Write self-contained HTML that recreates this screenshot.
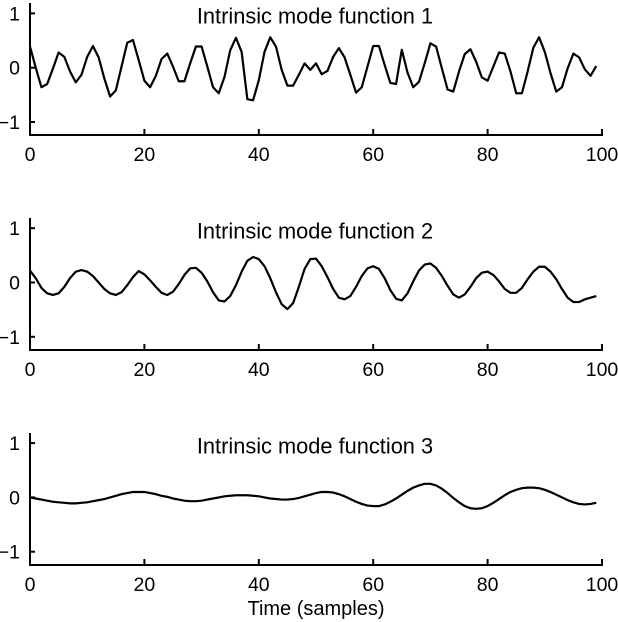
<!DOCTYPE html>
<html><head><meta charset="utf-8">
<style>
html,body{margin:0;padding:0;background:#fff;}
svg{display:block;font-family:"Liberation Sans",Helvetica,Arial,sans-serif;}
</style></head>
<body>
<svg id="chart" width="618" height="622" viewBox="0 0 618 622" xmlns="http://www.w3.org/2000/svg"></svg>
<script>
const xTicks = [0, 20, 40, 60, 80, 100];
const yTicks = [-1, 0, 1];
const yTickLabels = ["\u22121", "0", "1"];
const titles = ["Intrinsic mode function 1", "Intrinsic mode function 2", "Intrinsic mode function 3"];
const imf1 = [0.39,0.0,-0.36,-0.30,-0.02,0.28,0.20,-0.07,-0.27,-0.13,0.20,0.40,0.19,-0.20,-0.53,-0.42,0.02,0.46,0.51,0.14,-0.24,-0.36,-0.15,0.16,0.26,0.02,-0.25,-0.25,0.08,0.39,0.39,0.02,-0.36,-0.47,-0.17,0.32,0.55,0.29,-0.58,-0.60,-0.23,0.29,0.56,0.39,-0.04,-0.33,-0.33,-0.13,0.08,-0.04,0.08,-0.12,-0.06,0.20,0.36,0.19,-0.13,-0.46,-0.36,0.02,0.40,0.40,0.05,-0.28,-0.30,0.33,-0.09,-0.36,-0.26,0.08,0.45,0.39,-0.01,-0.40,-0.44,-0.07,0.25,0.34,0.11,-0.18,-0.24,0.02,0.28,0.26,-0.07,-0.47,-0.47,-0.07,0.37,0.56,0.29,-0.10,-0.44,-0.36,-0.01,0.26,0.19,-0.03,-0.15,0.03];
const imf2 = [0.22,0.08,-0.10,-0.20,-0.23,-0.20,-0.08,0.08,0.20,0.23,0.20,0.12,0.0,-0.12,-0.20,-0.23,-0.18,-0.05,0.10,0.21,0.15,0.04,-0.08,-0.19,-0.23,-0.17,-0.03,0.14,0.26,0.27,0.18,0.02,-0.18,-0.33,-0.35,-0.25,-0.05,0.20,0.40,0.47,0.43,0.30,0.08,-0.18,-0.40,-0.49,-0.38,-0.08,0.25,0.43,0.44,0.30,0.10,-0.12,-0.28,-0.31,-0.25,-0.08,0.12,0.26,0.30,0.25,0.08,-0.14,-0.30,-0.33,-0.20,0.02,0.22,0.33,0.35,0.27,0.12,-0.06,-0.22,-0.28,-0.22,-0.08,0.08,0.18,0.20,0.14,0.02,-0.12,-0.19,-0.19,-0.10,0.06,0.20,0.29,0.29,0.20,0.06,-0.12,-0.28,-0.36,-0.36,-0.31,-0.28,-0.25];
const imf3 = [0,-0.02,-0.04,-0.06,-0.08,-0.09,-0.10,-0.11,-0.11,-0.10,-0.09,-0.07,-0.05,-0.03,0,0.03,0.06,0.08,0.10,0.10,0.10,0.08,0.06,0.03,0.01,-0.02,-0.04,-0.06,-0.07,-0.07,-0.06,-0.04,-0.02,0,0.02,0.03,0.04,0.04,0.04,0.03,0.02,0,-0.02,-0.03,-0.04,-0.04,-0.03,-0.01,0.02,0.05,0.08,0.10,0.10,0.09,0.06,0.02,-0.03,-0.08,-0.12,-0.15,-0.16,-0.16,-0.13,-0.08,-0.02,0.05,0.12,0.18,0.22,0.25,0.25,0.22,0.16,0.08,-0.01,-0.09,-0.16,-0.20,-0.21,-0.20,-0.16,-0.10,-0.03,0.04,0.10,0.14,0.17,0.18,0.18,0.17,0.14,0.10,0.05,0,-0.05,-0.09,-0.12,-0.13,-0.12,-0.10];
const series = [imf1, imf2, imf3];

const NS = "http://www.w3.org/2000/svg";
const svg = document.getElementById("chart");
const x0 = 30, x1 = 602;
const zeroY = [67.7, 282.5, 497.4];
const axisY = [135, 350, 565];
const unit = 54.3;
function xScale(v){ return x0 + (v/100)*(x1-x0); }
function mk(tag, attrs){ const e=document.createElementNS(NS,tag); for(const k in attrs) e.setAttribute(k,attrs[k]); return e; }

series.forEach((data, p) => {
  const g = mk("g", {});
  
  
  svg.appendChild(g);
  const yScale = v => zeroY[p] - v*unit;
  const ya = mk("line", {x1:x0, y1:axisY[p]-132, x2:x0, y2:axisY[p]+1, stroke:"#000","stroke-width":2});
  
  
  g.appendChild(ya);
  const xa = mk("line", {x1:x0-1, y1:axisY[p], x2:x1+1, y2:axisY[p], stroke:"#000","stroke-width":2});
  
  
  g.appendChild(xa);
  xTicks.forEach(t => {
    const tx = xScale(t);
    const tl = mk("line", {x1:tx, y1:axisY[p], x2:tx, y2:axisY[p]-6, stroke:"#000","stroke-width":2});
    
    
    g.appendChild(tl);
    const lab = mk("text", {x:tx, y:axisY[p]+26, "text-anchor":"middle","font-size":19.5, fill:"#000"});
    lab.textContent = t;
    
    
    g.appendChild(lab);
  });
  yTicks.forEach((t,i) => {
    const ty = yScale(t);
    const tl = mk("line", {x1:x0, y1:ty, x2:x0+5, y2:ty, stroke:"#000","stroke-width":2});
    
    
    g.appendChild(tl);
    const lab = mk("text", {x:20, y:ty+7, "text-anchor":"end","font-size":19.5, fill:"#000"});
    lab.textContent = yTickLabels[i];
    
    
    g.appendChild(lab);
  });
  const title = mk("text", {x:315, y:zeroY[p]-44, "text-anchor":"middle","font-size":21.8, fill:"#000"});
  title.textContent = titles[p];
  
  
  g.appendChild(title);
  const pts = data.map((v,i) => xScale(i).toFixed(2) + "," + yScale(v).toFixed(2)).join(" ");
  const line = mk("polyline", {points:pts, fill:"none", stroke:"#000","stroke-width":2.2,"stroke-linejoin":"round"});
  
  
  g.appendChild(line);
});
const xl = mk("text", {x:316, y:615, "text-anchor":"middle","font-size":20, fill:"#000"});
xl.textContent = "Time (samples)";


svg.appendChild(xl);
</script>
</body></html>
